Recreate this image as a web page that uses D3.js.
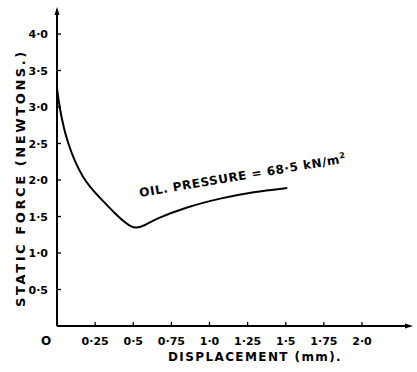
<!DOCTYPE html>
<html>
<head>
<meta charset="utf-8">
<script src="https://cdn.jsdelivr.net/npm/d3@7"></script>
<style>
  body { margin: 0; background: #fff; }
  svg text { font-family: "DejaVu Sans", sans-serif; font-weight: bold; fill: #000; }
</style>
</head>
<body>
<div id="chart"></div>
<script>
// curve: displacement (mm) vs static force (N)
var displacement = [0, 0.015, 0.064, 0.17, 0.28, 0.39, 0.45, 0.51, 0.57, 0.65, 0.85, 1.07, 1.29, 1.51];
var force = [3.26, 3.0, 2.51, 2.0, 1.76, 1.52, 1.41, 1.33, 1.37, 1.47, 1.63, 1.75, 1.84, 1.89];
var xTicks = [0.25, 0.5, 0.75, 1.0, 1.25, 1.5, 1.75, 2.0];
var xTickLabels = ["0·25", "0·5", "0·75", "1·0", "1·25", "1·5", "1·75", "2·0"];
var yTicks = [0.5, 1.0, 1.5, 2.0, 2.5, 3.0, 3.5, 4.0];
var yTickLabels = ["0·5", "1·0", "1·5", "2·0", "2·5", "3·0", "3·5", "4·0"];

var w = 417, h = 372;
var svg = d3.select("#chart").append("svg").attr("width", w).attr("height", h);

var x = d3.scaleLinear().domain([0, 2]).range([57, 362]);
var y = d3.scaleLinear().domain([0, 4]).range([326, 34]);

// axes lines with arrows
svg.append("line").attr("x1", x(0)).attr("y1", y(0)).attr("x2", 410).attr("y2", y(0))
    .attr("stroke", "#000").attr("stroke-width", 2);
svg.append("line").attr("x1", x(0)).attr("y1", y(0)).attr("x2", x(0)).attr("y2", 10)
    .attr("stroke", "#000").attr("stroke-width", 2);
svg.append("path").attr("d", "M" + x(0) + ",7 l-2.5,8 l5,0 z").attr("fill", "#000");
svg.append("path").attr("d", "M413," + y(0) + " l-8,-2.5 l0,5 z").attr("fill", "#000");

// y ticks
svg.selectAll(".yt").data(yTicks).enter().append("line")
    .attr("x1", x(0) - 1).attr("x2", x(0) + 4)
    .attr("y1", function(d){ return y(d); }).attr("y2", function(d){ return y(d); })
    .attr("stroke", "#000").attr("stroke-width", 1.3);
svg.selectAll(".yl").data(yTicks).enter().append("text")
    .attr("x", x(0) - 9).attr("y", function(d){ return y(d) + 4; })
    .attr("text-anchor", "end").attr("font-size", 11)
    .text(function(d, i){ return yTickLabels[i]; });

// x ticks
svg.selectAll(".xt").data(xTicks).enter().append("line")
    .attr("x1", function(d){ return x(d); }).attr("x2", function(d){ return x(d); })
    .attr("y1", y(0)).attr("y2", y(0) - 4)
    .attr("stroke", "#000").attr("stroke-width", 1.3);
svg.selectAll(".xl").data(xTicks).enter().append("text")
    .attr("x", function(d){ return x(d); }).attr("y", 345)
    .attr("text-anchor", "middle").attr("font-size", 11)
    .text(function(d, i){ return xTickLabels[i]; });
svg.append("text").attr("x", 46).attr("y", 345).attr("text-anchor", "middle")
    .attr("font-size", 12).text("O");

// curve
var line = d3.line()
    .x(function(d){ return x(d[0]); })
    .y(function(d){ return y(d[1]); })
    .curve(d3.curveBasis);
svg.append("path").datum(d3.zip(displacement, force))
    .attr("d", line).attr("fill", "none")
    .attr("stroke", "#000").attr("stroke-width", 2);

// axis titles
svg.append("text").attr("transform", "translate(25,178) rotate(-90)")
    .attr("text-anchor", "middle").attr("font-size", 13).attr("letter-spacing", 2.6)
    .text("STATIC FORCE (NEWTONS.)");
svg.append("text").attr("x", 255).attr("y", 361)
    .attr("text-anchor", "middle").attr("font-size", 12).attr("letter-spacing", 1.4)
    .text("DISPLACEMENT (mm).");

// annotation
svg.append("text").attr("transform", "translate(140,197) rotate(-9.5)")
    .attr("font-size", 12).attr("letter-spacing", 0.6)
    .html("OIL. PRESSURE = 68·5 kN/m<tspan dy='-5' font-size='8'>2</tspan>");
</script>
</body>
</html>
